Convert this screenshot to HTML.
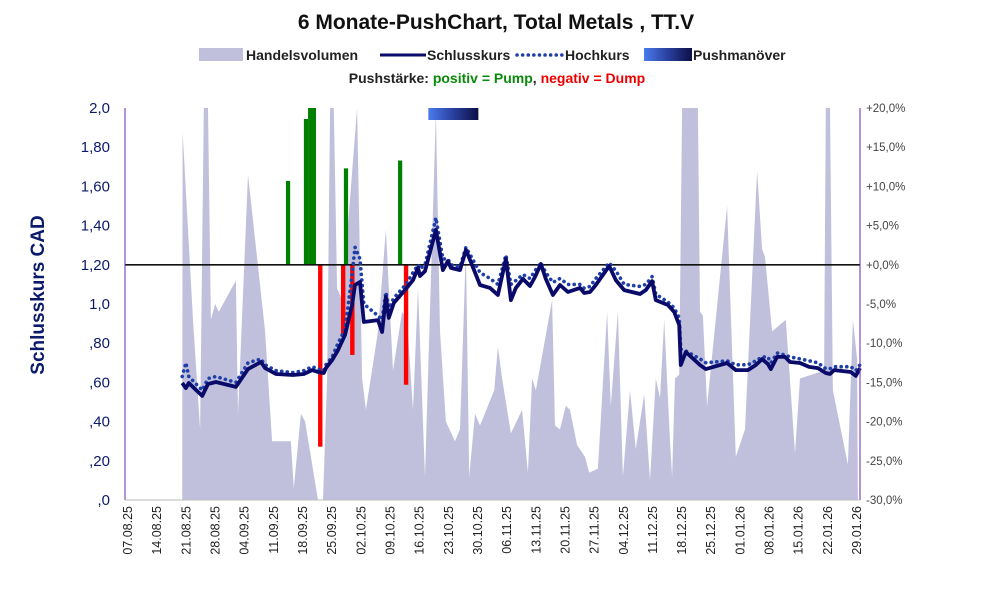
<!DOCTYPE html>
<html><head><meta charset="utf-8">
<style>
html,body{margin:0;padding:0;background:#fff;}
body{width:991px;height:587px;overflow:hidden;font-family:"Liberation Sans",sans-serif;}
svg text{font-family:"Liberation Sans",sans-serif;}
</style></head>
<body>
<svg id="chart" width="991" height="587" viewBox="0 0 991 587" xmlns="http://www.w3.org/2000/svg">
<defs>
<linearGradient id="pushGrad" x1="0" x2="1" y1="0" y2="0">
<stop offset="0" stop-color="#4a7bec"/><stop offset="0.5" stop-color="#2a3f9e"/><stop offset="1" stop-color="#0a0f45"/>
</linearGradient>
</defs>
<text x="496" y="29" text-anchor="middle" font-size="21" font-weight="bold" fill="#111">6 Monate-PushChart, Total Metals , TT.V</text>
<g font-size="14" font-weight="bold" fill="#222">
<rect x="199" y="48" width="44" height="13" fill="#c0c0dc"/>
<text x="246" y="60">Handelsvolumen</text>
<line x1="380" y1="55" x2="426" y2="55" stroke="#0a0a6a" stroke-width="3"/>
<text x="427" y="60">Schlusskurs</text>
<line x1="517" y1="55" x2="563" y2="55" stroke="#1f3fa8" stroke-width="3.5" stroke-dasharray="0.1,5.5" stroke-linecap="round"/>
<text x="565" y="60">Hochkurs</text>
<rect x="644" y="48" width="48" height="13" fill="url(#pushGrad)"/>
<text x="693" y="60">Pushmanöver</text>
</g>
<text x="497" y="83" text-anchor="middle" font-size="14" font-weight="bold"><tspan fill="#222">Pushstärke:  </tspan><tspan fill="#0a8a0a">positiv = Pump</tspan><tspan fill="#222">,  </tspan><tspan fill="#e00">negativ = Dump</tspan></text>
<text transform="translate(44,295) rotate(-90)" text-anchor="middle" font-size="19" font-weight="bold" fill="#0c1a6a">Schlusskurs CAD</text>
<g id="plot"></g>
</svg>
<script>
const closeDays=[13,13.9,14.6,17.8,19.2,21.1,25.9,28.8,31.9,32.9,35.5,39.6,42.2,44.2,45.6,47,47.5,49,50.4,52.1,53.8,54.5,55.7,56.6,60,61,61.9,62.6,63.8,66.7,68.4,69.6,70.1,71.3,73.9,75.6,76.8,77.5,79.7,81.1,81.9,84.5,86.9,88.8,90.7,91.9,93.1,94.8,96.5,97.7,99.1,100.3,102,103.7,105.6,108.5,109.5,110.9,112.3,115.5,117.1,119.1,122.9,124.3,125.8,126.7,129.6,131.1,132.3,132.7,133.9,137.3,138.7,143.8,145.9,148.8,150.7,152.2,153.6,154.3,155.8,157.7,158.9,161.3,163.5,165.6,167.5,168.5,169.5,173.5,174.7,175.7];
const closeVals=[.597,.571,.597,.531,.592,.602,.577,.668,.704,.673,.643,.638,.643,.663,.653,.648,.673,.714,.765,.842,.995,1.097,1.112,.908,.918,.857,1.036,.929,1.005,1.077,1.122,1.184,1.143,1.168,1.378,1.173,1.219,1.184,1.173,1.276,1.235,1.097,1.082,1.046,1.23,1.02,1.082,1.128,1.092,1.138,1.204,1.128,1.046,1.097,1.061,1.082,1.056,1.061,1.097,1.194,1.122,1.071,1.051,1.071,1.117,1.02,.995,.959,.893,.689,.755,.689,.668,.699,.663,.663,.689,.719,.694,.668,.730,.730,.704,.699,.679,.673,.648,.643,.663,.653,.633,.673];
const highVals=[.63,.70,.63,.56,.62,.63,.60,.70,.72,.69,.66,.65,.66,.68,.67,.66,.69,.73,.80,.87,1.15,1.29,1.23,1.00,.94,.92,1.06,.98,1.03,1.10,1.16,1.20,1.18,1.20,1.44,1.23,1.23,1.20,1.19,1.29,1.26,1.16,1.13,1.10,1.25,1.10,1.12,1.15,1.13,1.17,1.21,1.16,1.11,1.13,1.10,1.10,1.08,1.09,1.13,1.21,1.17,1.10,1.09,1.10,1.14,1.05,1.01,.98,.93,.77,.76,.72,.70,.71,.69,.69,.71,.73,.73,.70,.75,.74,.73,.72,.71,.70,.67,.67,.68,.68,.66,.69];
const volDays=[13,13.1,15.6,17.3,18.2,19.2,19.9,20.9,21.8,25.9,26.4,28.8,32.9,34.6,39.1,39.8,41.5,42.5,45.6,46.8,47.8,48.5,49.4,50.2,51.4,55,56.2,57.1,60,61.9,63.6,65.8,67,68.4,69.6,71.3,73.9,74.9,76.3,78.5,79.7,81.1,81.9,83.3,84.5,87.9,88.8,89.8,91.9,94.6,96,97,97.9,101.8,102.5,103.7,105.1,106.1,107.8,109.7,110.7,112.8,115,115.9,117.6,118.8,120.5,121.9,123.9,125.3,126.7,127.7,128.7,130.1,130.6,131.3,132.3,133,136.8,137.3,138,139,143.8,145.9,148.1,151,152.2,152.9,154.6,157.9,160.1,161.3,167.1,167.5,168.5,169.2,172.8,174,175,175.2];
const volVals=[0,94,46,18,100,110,46,50,48,56,22,83,43,15,15,3,22,20,0,0,31,110,110,54,51,100,31,23,43,69,33,48,46,23,54,6,99,43,20,15,18,64,6,22,19,28,39,31,17,23,7,31,28,51,19,18,24,23,14,11,7,8,48,24,48,6,28,13,27,5,31,26,46,15,6,31,32,110,110,48,47,24,75,11,18,84,64,62,43,46,12,31,33,110,110,28,9,46,36,0];
const pumpDays=[38.4,42.7,43.7,44.6,52.3,65.3];
const pumpVals=[10.7,18.6,25,25,12.3,13.3];
const dumpDays=[46.1,51.6,53.8,66.7];
const dumpVals=[-23.2,-8.9,-11.5,-15.3];
const pushStart=72.1, pushEnd=84.1;
const leftTicks=[2.0,1.8,1.6,1.4,1.2,1.0,0.8,0.6,0.4,0.2,0];
const leftLabels=["2,0","1,80","1,60","1,40","1,20","1,0",",80",",60",",40",",20",",0"];
const rightTicks=[20,15,10,5,0,-5,-10,-15,-20,-25,-30];
const rightLabels=["+20,0%","+15,0%","+10,0%","+5,0%","+0,0%","-5,0%","-10,0%","-15,0%","-20,0%","-25,0%","-30,0%"];
const dateLabels=["07.08.25","14.08.25","21.08.25","28.08.25","04.09.25","11.09.25","18.09.25","25.09.25","02.10.25","09.10.25","16.10.25","23.10.25","30.10.25","06.11.25","13.11.25","20.11.25","27.11.25","04.12.25","11.12.25","18.12.25","25.12.25","01.01.26","08.01.26","15.01.26","22.01.26","29.01.26"];

const X0=128,DX=4.166,YT=108,YB=500,L=125,R=860;
const xs=d=>X0+d*DX;
const yL=v=>YB-(v/2.0)*(YB-YT);
const yR=p=>YB-((p+30)/50)*(YB-YT);
const yV=v=>YB-(Math.min(v,100)/100)*(YB-YT);
const NS="http://www.w3.org/2000/svg";
const plot=document.getElementById('plot');
function mk(tag,attrs,parent){const e=document.createElementNS(NS,tag);for(const k in attrs)e.setAttribute(k,attrs[k]);(parent||plot).appendChild(e);return e;}

let vp=`M${xs(volDays[0])},${YB}`;
volDays.forEach((d,i)=>{vp+=` L${xs(d).toFixed(1)},${yV(volVals[i]).toFixed(1)}`;});
vp+=` L${xs(volDays[volDays.length-1])},${YB} Z`;
const area=mk('path',{d:vp,fill:'#c0c0dc'});



pumpDays.forEach((d,i)=>{
  const top=Math.max(yR(pumpVals[i]),YT);
  const b=mk('rect',{x:xs(d)-2,y:top,width:4.2,height:yR(0)-top,fill:'#008000'});
  
  
});
dumpDays.forEach((d,i)=>{
  const bot=yR(dumpVals[i]);
  const b=mk('rect',{x:xs(d)-2,y:yR(0),width:4.4,height:bot-yR(0),fill:'#ff0000'});
  
  
});
const pb=mk('rect',{x:xs(pushStart),y:YT,width:xs(pushEnd)-xs(pushStart),height:12,fill:'url(#pushGrad)'});



const zl=mk('line',{x1:L,x2:R,y1:yR(0),y2:yR(0),stroke:'#111','stroke-width':1.6});



const hp=mk('polyline',{points:closeDays.map((d,i)=>xs(d).toFixed(1)+','+yL(highVals[i]).toFixed(1)).join(' '),fill:'none',stroke:'#1f3fa8','stroke-width':3.6,'stroke-dasharray':'0.1,5.5','stroke-linecap':'round'});


const cp=mk('polyline',{points:closeDays.map((d,i)=>xs(d).toFixed(1)+','+yL(closeVals[i]).toFixed(1)).join(' '),fill:'none',stroke:'#0a0a6a','stroke-width':3.8,'stroke-linejoin':'round'});



const la=mk('line',{x1:L,x2:L,y1:YT,y2:YB,stroke:'#6a2ab0','stroke-width':1});


const ra=mk('line',{x1:R,x2:R,y1:YT,y2:YB,stroke:'#6a2ab0','stroke-width':1});


const ba=mk('line',{x1:L,x2:R,y1:YB,y2:YB,stroke:'#bbb','stroke-width':1});



leftTicks.forEach((v,i)=>{
  const t=mk('text',{x:110,y:yL(v)+5,'text-anchor':'end','font-size':15,fill:'#0c1a6a'});
  t.textContent=leftLabels[i];
  
  
});
rightTicks.forEach((p,i)=>{
  const t=mk('text',{x:866,y:yR(p)+4,'font-size':11.5,fill:'#444'});
  t.textContent=rightLabels[i];
  
  
});
dateLabels.forEach((s,i)=>{
  const x=xs(i*7)+4;
  const t=mk('text',{transform:`translate(${x.toFixed(1)},506) rotate(-90)`,'text-anchor':'end','font-size':12.5,fill:'#222'});
  t.textContent=s;
  
  
});
</script>
</body></html>
